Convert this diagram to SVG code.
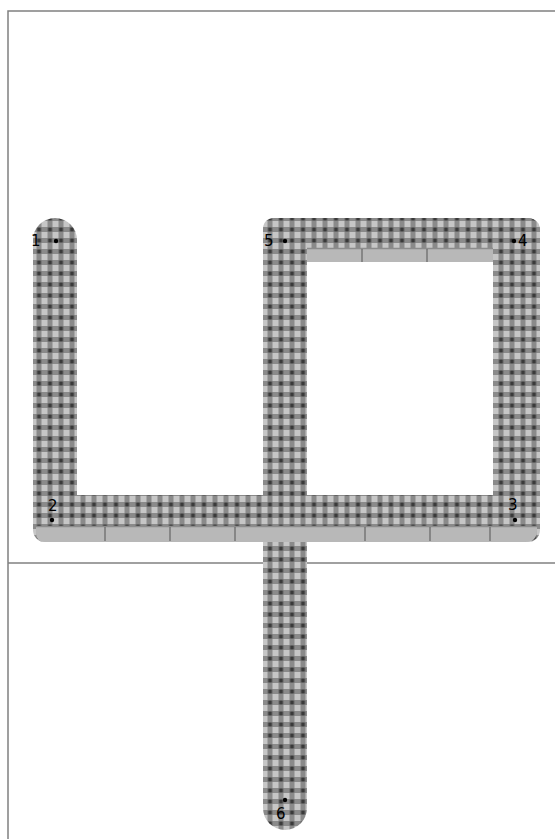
<svg xmlns="http://www.w3.org/2000/svg" width="555" height="839" viewBox="0 0 555 839">
<defs>
<pattern id="plaid" patternUnits="userSpaceOnUse" x="0.5" y="4" width="11" height="11">
<rect width="11" height="11" fill="#c6c6c6"/>
<rect x="3" y="0" width="5" height="11" fill="#8a8a8a"/>
<rect x="0" y="3" width="11" height="5" fill="#8a8a8a"/>
<rect x="3.5" y="3.5" width="4" height="4" fill="#3a3a3a"/>
</pattern>
<style>
.frame{fill:none;stroke:#808080;stroke-width:1.5}
.stroke{fill:url(#plaid)}
.band{fill:#b8b8b8}
.bandedge{stroke:#8c8c8c;stroke-width:1.5}
.tick{stroke:#555;stroke-width:1}
.lbl{font-family:"DejaVu Sans","Liberation Sans",sans-serif;font-size:15px;fill:#000}
.dot{fill:#000}
</style>
</defs>
<rect width="555" height="839" fill="#fff"/>
<g id="frame">
<path class="frame" d="M8,839 V11 H555"/>
<path class="frame" d="M8,563 H555"/>
</g>
<g id="stroke-1">
<path class="stroke" d="M33,240 A22,22 0 0 1 77,240 V505 H33 Z"/>
</g>
<g id="stroke-2">
<path class="stroke" d="M263,230 Q263,218 275,218 H307 V808 A22,22 0 0 1 263,808 Z"/>
</g>
<g id="stroke-3">
<rect class="stroke" x="263" y="218" width="277" height="44" rx="12"/>
<rect class="stroke" x="493" y="218" width="47" height="300" rx="12"/>
<rect class="band" x="307" y="248" width="186" height="14"/>
<line class="bandedge" x1="307" y1="248.5" x2="493" y2="248.5"/>
<line class="tick" x1="362" y1="249" x2="362" y2="262"/>
<line class="tick" x1="427" y1="249" x2="427" y2="262"/>
</g>
<g id="stroke-4">
<rect class="stroke" x="33" y="495" width="507" height="47" rx="12"/>
<path class="band" d="M36,526 H537 V530 Q537,542 525,542 H45 Q36,542 36,533 Z"/>
<line class="bandedge" x1="36" y1="526.5" x2="537" y2="526.5"/>
<line class="tick" x1="105" y1="527" x2="105" y2="541"/>
<line class="tick" x1="170" y1="527" x2="170" y2="541"/>
<line class="tick" x1="235" y1="527" x2="235" y2="541"/>
<line class="tick" x1="365" y1="527" x2="365" y2="541"/>
<line class="tick" x1="430" y1="527" x2="430" y2="541"/>
<line class="tick" x1="490" y1="527" x2="490" y2="541"/>
</g>
<g id="points">
<g id="p1"><circle class="dot" cx="56" cy="241" r="2.2"/><text class="lbl" x="31" y="246">1</text></g>
<g id="p2"><circle class="dot" cx="52" cy="520" r="2.2"/><text class="lbl" x="48" y="511">2</text></g>
<g id="p3"><circle class="dot" cx="515" cy="520" r="2.2"/><text class="lbl" x="508" y="510">3</text></g>
<g id="p4"><circle class="dot" cx="514" cy="241" r="2.2"/><text class="lbl" x="518" y="246">4</text></g>
<g id="p5"><circle class="dot" cx="285" cy="241" r="2.2"/><text class="lbl" x="264" y="246">5</text></g>
<g id="p6"><circle class="dot" cx="285" cy="800" r="2.2"/><text class="lbl" x="276" y="819">6</text></g>
</g>
</svg>
